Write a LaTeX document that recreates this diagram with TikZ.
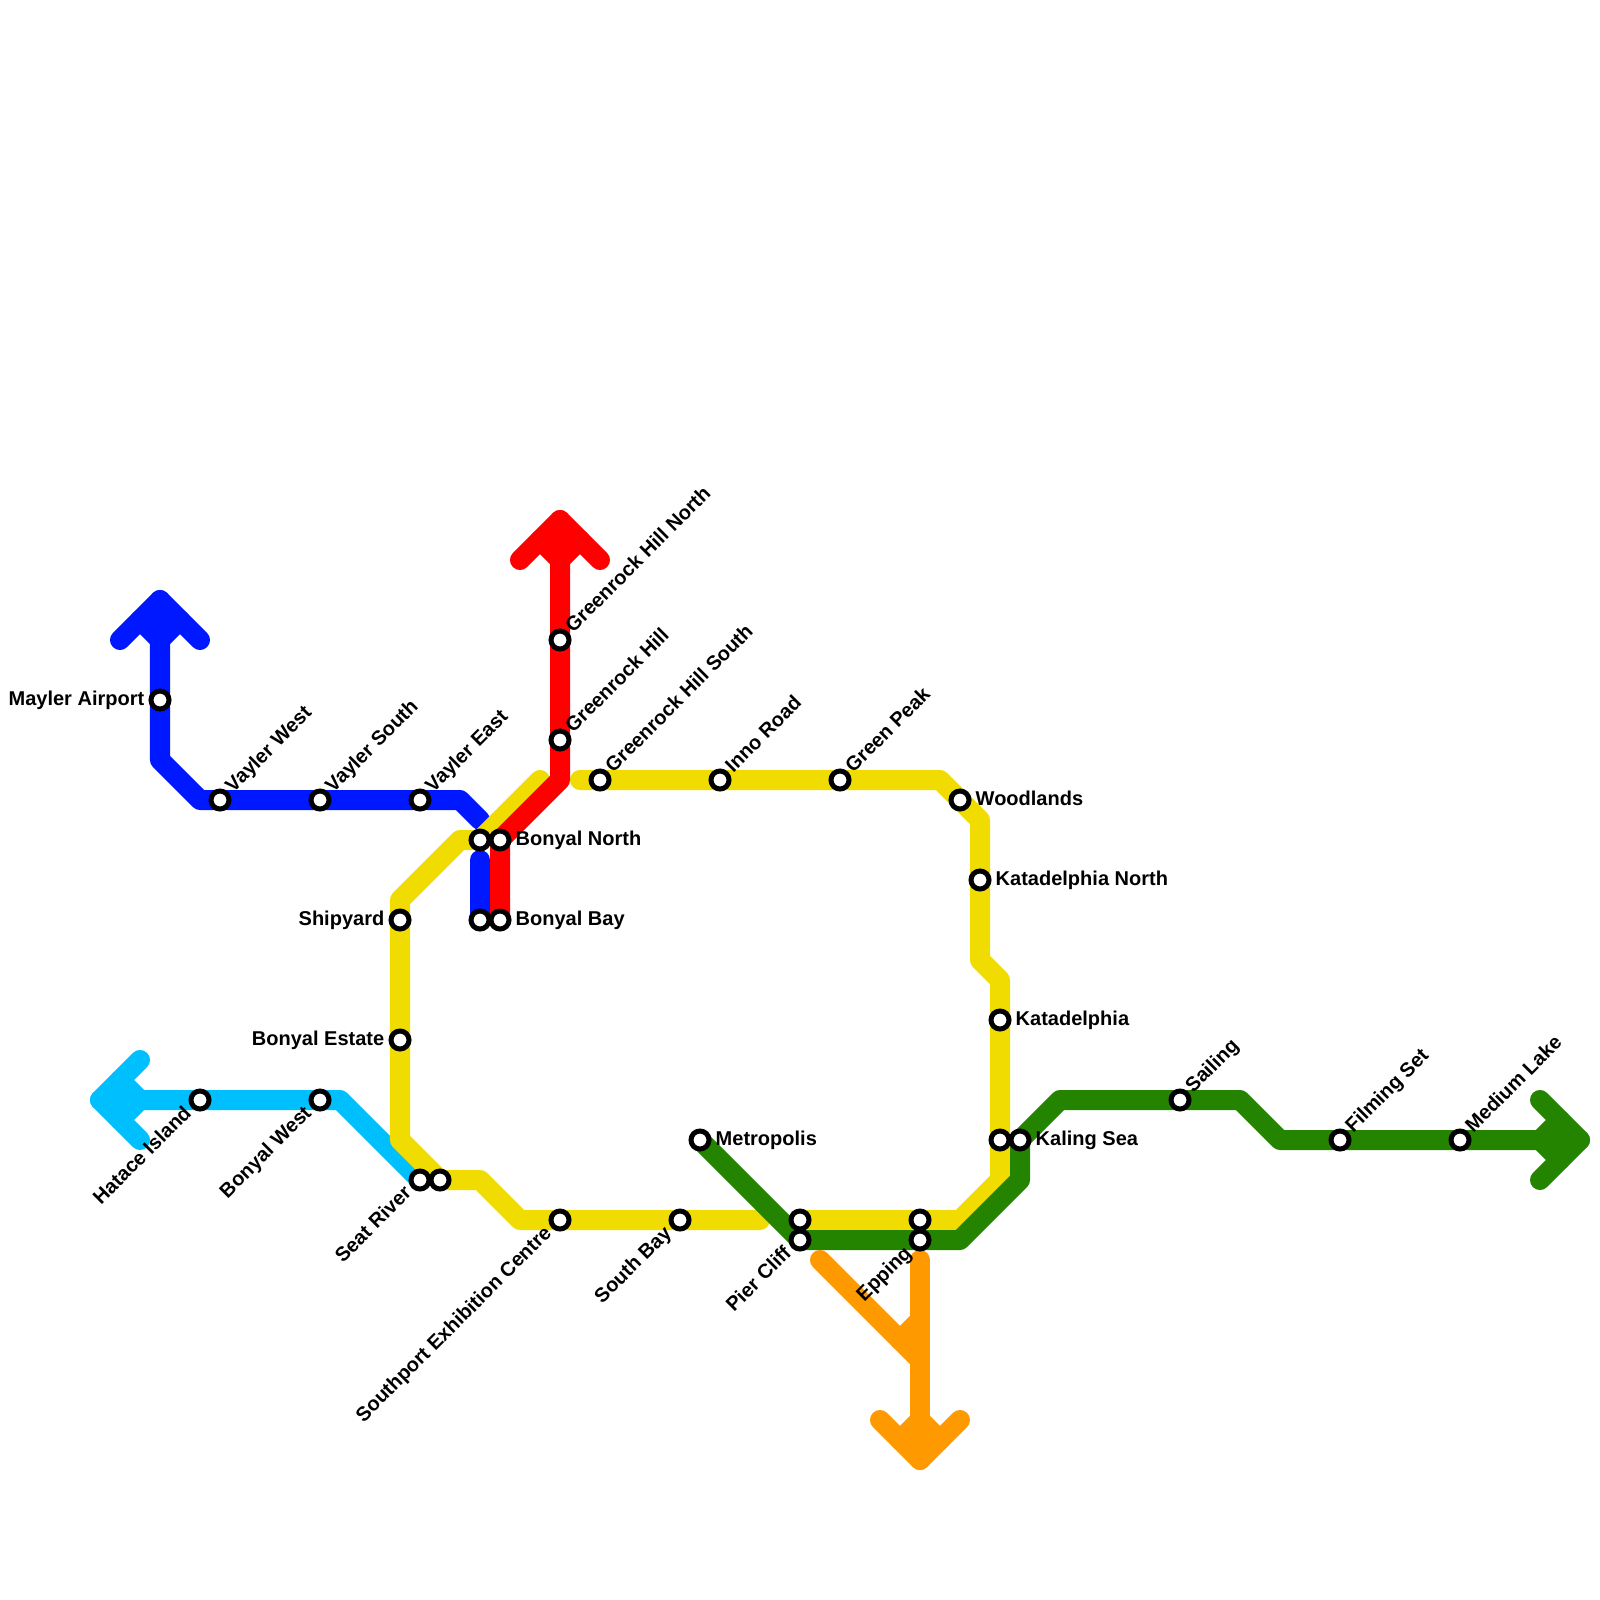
\documentclass[tikz,border=0pt]{standalone}
\usepackage{fontspec}
\setmainfont{Liberation Sans}
\usetikzlibrary{positioning, backgrounds}
\definecolor{RoyalBlue}{HTML}{0018FF}
\definecolor{SkyBlue}{HTML}{00BFFF}
\definecolor{SunYellow}{HTML}{F0DC00}
\definecolor{ForestGreen}{HTML}{248400}
\definecolor{PureRed}{HTML}{FF0000}
\definecolor{DeepOrange}{HTML}{FF9900}
\begin{document}
\begin{tikzpicture}[x=0.01cm, y=-0.01cm,
      route/.style={line width=2mm, line cap=round, line join=round},
      stn/.style={circle, draw=black, fill=white, line width=0.5mm, inner sep=0pt, outer sep=0pt, minimum size=1.8mm},
      tag/.style={font=\fontsize{5.69pt}{6.8pt}\selectfont\bfseries, inner sep=0pt, text=black, text height=1.65mm, text depth=0.55mm},
      tagr/.style={tag, right=1.5mm of #1.center, anchor=west},
      tagl/.style={tag, left=1.5mm of #1.center, anchor=east},
      tagne/.style={tag, shift={(9,-10)}, rotate=45, anchor=west},
      tagsw/.style={tag, shift={(-11,10)}, rotate=45, anchor=east}]
  \useasboundingbox (0,0) rectangle (1600,1600);
  % Stations, west line
  \node[stn] (hatace) at (200,1100) {};
  \node[stn] (bonyalwest) at (320,1100) {};
  \node[stn] (seatriver) at (420,1180) {};
  \node[stn] (seatriverb) at (440,1180) {};
  \node[stn] (mayler) at (160,700) {};
  \node[stn] (vaylerwest) at (220,800) {};
  \node[stn] (vaylersouth) at (320,800) {};
  \node[stn] (vaylereast) at (420,800) {};
  % Stations, centre
  \node[stn] (northb) at (480,840) {};
  \node[stn] (north) at (500,840) {};
  \node[stn] (bayb) at (480,920) {};
  \node[stn] (bay) at (500,920) {};
  \node[stn] (shipyard) at (400,920) {};
  \node[stn] (estate) at (400,1040) {};
  \node[stn] (hillnorth) at (560,640) {};
  \node[stn] (hill) at (560,740) {};
  \node[stn] (hillsouth) at (600,780) {};
  \node[stn] (inno) at (720,780) {};
  \node[stn] (peak) at (840,780) {};
  % Stations, east
  \node[stn] (woodlands) at (960,800) {};
  \node[stn] (katanorth) at (980,880) {};
  \node[stn] (kata) at (1000,1020) {};
  \node[stn] (kalingb) at (1000,1140) {};
  \node[stn] (kaling) at (1020,1140) {};
  \node[stn] (sailing) at (1180,1100) {};
  \node[stn] (filming) at (1340,1140) {};
  \node[stn] (medium) at (1460,1140) {};
  % Stations, south
  \node[stn] (exhibition) at (560,1220) {};
  \node[stn] (southbay) at (680,1220) {};
  \node[stn] (metropolis) at (700,1140) {};
  \node[stn] (pierb) at (800,1220) {};
  \node[stn] (pier) at (800,1240) {};
  \node[stn] (eppingb) at (920,1220) {};
  \node[stn] (epping) at (920,1240) {};
  % Labels
  \node[tagl=mayler] (tmayler) {Mayler Airport};
  \node[tagl=shipyard] (tshipyard) {Shipyard};
  \node[tagl=estate] (testate) {Bonyal Estate};
  \node[tagr=north] (tnorth) {Bonyal North};
  \node[tagr=bay] (tbay) {Bonyal Bay};
  \node[tagr=woodlands] (twoodlands) {Woodlands};
  \node[tagr=katanorth] (tkatanorth) {Katadelphia North};
  \node[tagr=kata] (tkata) {Katadelphia};
  \node[tagr=kaling] (tkaling) {Kaling Sea};
  \node[tagr=metropolis] (tmetropolis) {Metropolis};
  \node[tagne] (tvaylerwest) at (vaylerwest) {Vayler West};
  \node[tagne] (tvaylersouth) at (vaylersouth) {Vayler South};
  \node[tagne] (tvaylereast) at (vaylereast) {Vayler East};
  \node[tagne] (thillnorth) at (hillnorth) {Greenrock Hill North};
  \node[tagne] (thill) at (hill) {Greenrock Hill};
  \node[tagne] (thillsouth) at (hillsouth) {Greenrock Hill South};
  \node[tagne] (tinno) at (inno) {Inno Road};
  \node[tagne] (tpeak) at (peak) {Green Peak};
  \node[tagne] (tsailing) at (sailing) {Sailing};
  \node[tagne] (tfilming) at (filming) {Filming Set};
  \node[tagne] (tmedium) at (medium) {Medium Lake};
  \node[tagsw] (thatace) at (hatace) {Hatace Island};
  \node[tagsw] (tbonyalwest) at (bonyalwest) {Bonyal West};
  \node[tagsw] (tseatriver) at (seatriver) {Seat River};
  \node[tagsw] (texhibition) at (exhibition) {Southport Exhibition Centre};
  \node[tagsw] (tsouthbay) at (southbay) {South Bay};
  \node[tagsw] (tpier) at (pier) {Pier Cliff};
  \node[tagsw] (tepping) at (epping) {Epping};
  % Bends of the lines
  \coordinate (sa) at (340,1100);
  \coordinate (ba) at (160,760);
  \coordinate (bb) at (200,800);
  \coordinate (bc) at (460,800);
  \coordinate (bd) at (480,820);
  \coordinate (be) at (480,860);
  \coordinate (ya) at (540,780);
  \coordinate (yb) at (480,840);
  \coordinate (yc) at (460,840);
  \coordinate (yd) at (400,900);
  \coordinate (ye) at (400,1140);
  \coordinate (yf) at (440,1180);
  \coordinate (yg) at (480,1180);
  \coordinate (yh) at (520,1220);
  \coordinate (yi) at (760,1220);
  \coordinate (yj) at (580,780);
  \coordinate (yk) at (940,780);
  \coordinate (yl) at (980,820);
  \coordinate (ym) at (980,960);
  \coordinate (yn) at (1000,980);
  \coordinate (yo) at (1000,1180);
  \coordinate (yp) at (960,1220);
  \coordinate (ga) at (800,1240);
  \coordinate (gb) at (960,1240);
  \coordinate (gc) at (1020,1180);
  \coordinate (gd) at (1020,1140);
  \coordinate (ge) at (1060,1100);
  \coordinate (gf) at (1240,1100);
  \coordinate (gg) at (1280,1140);
  \coordinate (ra) at (500,840);
  \coordinate (rb) at (560,780);
  \coordinate (oa) at (820,1260);
  \coordinate (ob) at (920,1360);
  \coordinate (oc) at (900,1340);
  \coordinate (od) at (920,1320);
  \coordinate (oe) at (920,1260);
  % Line ends
  \coordinate (sl) at (100,1100);
  \coordinate (bt) at (160,600);
  \coordinate (rt) at (560,520);
  \coordinate (gt) at (1580,1140);
  \coordinate (ot) at (920,1460);
  \begin{scope}[on background layer]
    % Sky blue line
    \draw[route, SkyBlue] (sl) -- (sa) -- (seatriver.center);
    \draw[route, SkyBlue] ([shift={(40,-40)}]sl) -- (sl) -- ([shift={(40,40)}]sl);
    \draw[route, SkyBlue] ([shift={(20,-20)}]sl) -- ([shift={(40,0)}]sl) -- ([shift={(20,20)}]sl);
    % Blue line
    \draw[route, RoyalBlue] (bt) -- (ba) -- (bb) -- (bc) -- (bd);
    \draw[route, RoyalBlue] (be) -- (bayb.center);
    \draw[route, RoyalBlue] ([shift={(-40,40)}]bt) -- (bt) -- ([shift={(40,40)}]bt);
    \draw[route, RoyalBlue] ([shift={(-20,20)}]bt) -- ([shift={(0,40)}]bt) -- ([shift={(20,20)}]bt);
    % Yellow line
    \draw[route, SunYellow] (ya) -- (yb) -- (yc) -- (yd) -- (ye) -- (yf) -- (yg) -- (yh) -- (yi);
    \draw[route, SunYellow] (yj) -- (yk) -- (yl) -- (ym) -- (yn) -- (yo) -- (yp) -- (pierb.center);
    % Green line
    \draw[route, ForestGreen] (metropolis.center) -- (ga) -- (gb) -- (gc) -- (gd) -- (ge) -- (gf) -- (gg) -- (gt);
    \draw[route, ForestGreen] ([shift={(-40,-40)}]gt) -- (gt) -- ([shift={(-40,40)}]gt);
    \draw[route, ForestGreen] ([shift={(-20,-20)}]gt) -- ([shift={(-40,0)}]gt) -- ([shift={(-20,20)}]gt);
    % Red line
    \draw[route, PureRed] (bay.center) -- (ra) -- (rb) -- (rt);
    \draw[route, PureRed] ([shift={(-40,40)}]rt) -- (rt) -- ([shift={(40,40)}]rt);
    \draw[route, PureRed] ([shift={(-20,20)}]rt) -- ([shift={(0,40)}]rt) -- ([shift={(20,20)}]rt);
    % Orange line
    \draw[route, DeepOrange] (oa) -- (ob);
    \draw[route, DeepOrange] (oc) -- (od);
    \draw[route, DeepOrange] (oe) -- (ot);
    \draw[route, DeepOrange] ([shift={(-40,-40)}]ot) -- (ot) -- ([shift={(40,-40)}]ot);
    \draw[route, DeepOrange] ([shift={(-20,-20)}]ot) -- ([shift={(0,-40)}]ot) -- ([shift={(20,-20)}]ot);
  \end{scope}
\end{tikzpicture}
\end{document}
